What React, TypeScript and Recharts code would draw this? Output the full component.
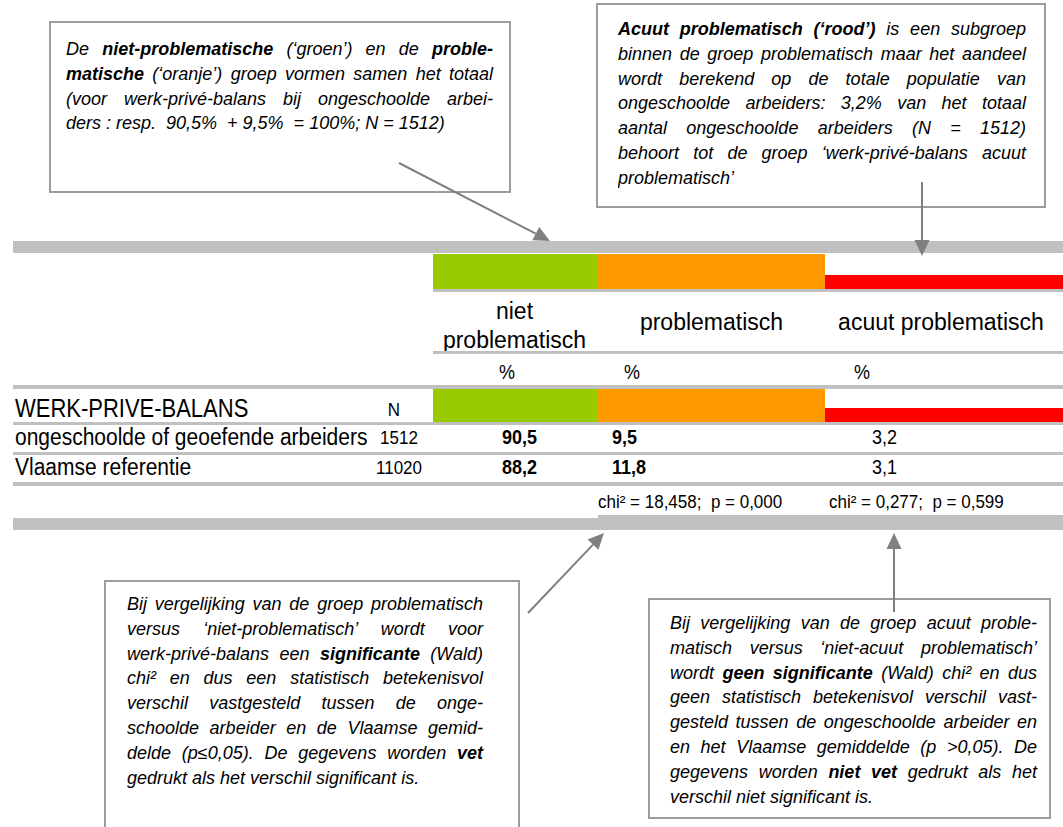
import React from 'react';
import { ComposedChart, XAxis, YAxis, ReferenceArea, Scatter, Customized } from 'recharts';

// ---------- data ----------
const sectionTitle = 'WERK-PRIVE-BALANS';
const columnHeaders = [['niet', 'problematisch'], ['problematisch'], ['acuut problematisch']];
const columnUnits = ['%', '%', '%'];
const groups = ['ongeschoolde of geoefende arbeiders', 'Vlaamse referentie'];
const groupN = [1512, 11020];
const nietProblematisch = [90.5, 88.2];
const problematisch = [9.5, 11.8];
const acuutProblematisch = [3.2, 3.1];
const columnSignificant = [true, true, false];
const chiSquare = [18.458, 0.277];
const pValue = [0.0, 0.599];
const columnColors = ['#99cc00', '#ff9900', '#ff0000'];

const noteTopLeft = [
  'De **niet-problematische** (‘groen’) en de **proble-**',
  '**matische** (‘oranje’) groep vormen samen het totaal',
  '(voor werk-privé-balans bij ongeschoolde arbei-',
  'ders : resp.  90,5%  + 9,5%  = 100%; N = 1512)',
];
const noteTopRight = [
  '**Acuut problematisch (‘rood’)** is een subgroep',
  'binnen de groep problematisch maar het aandeel',
  'wordt berekend op de totale populatie van',
  'ongeschoolde arbeiders: 3,2% van het totaal',
  'aantal ongeschoolde arbeiders (N = 1512)',
  'behoort tot de groep ‘werk-privé-balans acuut',
  'problematisch’',
];
const noteBottomLeft = [
  'Bij vergelijking van de groep problematisch',
  'versus ‘niet-problematisch’ wordt voor',
  'werk-privé-balans een **significante** (Wald)',
  'chi² en dus een statistisch betekenisvol',
  'verschil vastgesteld tussen de onge-',
  'schoolde arbeider en de Vlaamse gemid-',
  'delde (p≤0,05). De gegevens worden **vet**',
  'gedrukt als het verschil significant is.',
];
const noteBottomRight = [
  'Bij vergelijking van de groep acuut proble-',
  'matisch versus ‘niet-acuut problematisch’',
  'wordt **geen significante** (Wald) chi² en dus',
  'geen statistisch betekenisvol verschil vast-',
  'gesteld tussen de ongeschoolde arbeider en',
  'en het Vlaamse gemiddelde (p >0,05). De',
  'gegevens worden **niet vet** gedrukt als het',
  'verschil niet significant is.',
];

const tableRows = groups.map((g, i) => ({
  group: g,
  n: groupN[i],
  values: [nietProblematisch[i], problematisch[i], acuutProblematisch[i]],
}));

// ---------- layout ----------
const WIDTH = 1063;
const HEIGHT = 827;
const FONT = '"Liberation Sans", Arial, Helvetica, sans-serif';
const GRAY = '#c0c0c0';
const BOX = '#9c9c9c';
const ARROW = '#808080';
const COL_X = [433, 598, 825, 1063];
const LEFT = 13;
const VALUE_X = [502, 612, 872];
const UNIT_X = [507, 632, 862];
const CHI_X = [598, 829];
const ROW_Y = [437, 467];
const PITCH = 24.8;
const frame = [{ x: 0, y: 0 }, { x: WIDTH, y: HEIGHT }];

const fmt1 = (v: number) => v.toFixed(1).replace('.', ',');
const fmt3 = (v: number) => v.toFixed(3).replace('.', ',');

type Band = { x1: number; x2: number; y1: number; y2: number; fill: string };
const bands: Band[] = [
  { x1: LEFT, x2: WIDTH, y1: 241, y2: 253, fill: GRAY },
  { x1: COL_X[0], x2: COL_X[1], y1: 254, y2: 289, fill: columnColors[0] },
  { x1: COL_X[1], x2: COL_X[2], y1: 254, y2: 289, fill: columnColors[1] },
  { x1: COL_X[2], x2: COL_X[3], y1: 275, y2: 289, fill: columnColors[2] },
  { x1: COL_X[0], x2: WIDTH, y1: 289, y2: 292, fill: GRAY },
  { x1: COL_X[0], x2: WIDTH, y1: 351, y2: 354, fill: GRAY },
  { x1: LEFT, x2: WIDTH, y1: 385, y2: 389, fill: GRAY },
  { x1: COL_X[0], x2: COL_X[1], y1: 389, y2: 422, fill: columnColors[0] },
  { x1: COL_X[1], x2: COL_X[2], y1: 389, y2: 422, fill: columnColors[1] },
  { x1: COL_X[2], x2: COL_X[3], y1: 408, y2: 422, fill: columnColors[2] },
  { x1: LEFT, x2: WIDTH, y1: 422, y2: 425, fill: GRAY },
  { x1: LEFT, x2: WIDTH, y1: 452, y2: 455, fill: GRAY },
  { x1: LEFT, x2: WIDTH, y1: 482, y2: 486, fill: GRAY },
  { x1: LEFT, x2: COL_X[1], y1: 518, y2: 530, fill: GRAY },
  { x1: COL_X[1], x2: WIDTH, y1: 515, y2: 530, fill: GRAY },
];

type Note = { x1: number; y1: number; x2: number; y2: number; tx: number; tw: number; first: number; lines: string[] };
const notes: Note[] = [
  { x1: 50, y1: 22, x2: 510, y2: 192, tx: 66, tw: 427, first: 49, lines: noteTopLeft },
  { x1: 597, y1: 4, x2: 1045, y2: 207, tx: 618, tw: 408, first: 29, lines: noteTopRight },
  { x1: 105, y1: 581, x2: 519, y2: 840, tx: 127, tw: 356, first: 604, lines: noteBottomLeft },
  { x1: 649, y1: 599, x2: 1050, y2: 818, tx: 670, tw: 367, first: 623, lines: noteBottomRight },
];

type Arrow = { from: [number, number]; to: [number, number] };
const arrows: Arrow[] = [
  { from: [399, 163], to: [550, 241] },
  { from: [922, 182], to: [922, 256] },
  { from: [528, 613], to: [604, 533] },
  { from: [894, 612], to: [894, 533] },
];

const rich = (s: string) =>
  s.split('**').map((part, k) => (k % 2 ? <b key={k}>{part}</b> : <span key={k}>{part}</span>));

const STextStyle = { fontFamily: FONT, fill: '#000' } as const;

function SText(props: {
  x: number; y: number; size: number; anchor?: 'start' | 'middle' | 'end'; bold?: boolean; sy?: number; pre?: boolean; children: React.ReactNode;
}) {
  const { x, y, size, anchor = 'start', bold = false, sy = 1, pre = false, children } = props;
  return (
    <text
      transform={`translate(${x},${y}) scale(1,${sy})`}
      x={0}
      y={0}
      textAnchor={anchor}
      dominantBaseline="central"
      fontSize={size}
      fontWeight={bold ? 700 : 400}
      style={{ ...STextStyle, whiteSpace: pre ? 'pre' : 'normal' }}
    >
      {children}
    </text>
  );
}

function Overlay() {
  return (
    <g>
      {/* annotation boxes */}
      {notes.map((n, i) => (
        <g key={'note' + i}>
          <rect x={n.x1} y={n.y1} width={n.x2 - n.x1} height={n.y2 - n.y1} fill="#fff" stroke={BOX} strokeWidth={2} />
          <foreignObject x={n.tx} y={n.first - 12} width={n.tw + 40} height={n.lines.length * PITCH + 12}>
            <div style={{ position: 'relative', width: n.tw, fontFamily: FONT, fontStyle: 'italic', fontSize: 18, color: '#000' }}>
              {n.lines.map((ln, k) => {
                const last = k === n.lines.length - 1;
                return (
                  <div
                    key={k}
                    style={{
                      position: 'absolute',
                      left: 0,
                      top: k * PITCH,
                      width: n.tw,
                      height: 24,
                      lineHeight: '24px',
                      whiteSpace: last ? 'pre' : 'nowrap',
                      textAlign: last ? 'left' : 'justify',
                      textAlignLast: last ? 'left' : 'justify',
                    } as React.CSSProperties}
                  >
                    {rich(ln)}
                  </div>
                );
              })}
            </div>
          </foreignObject>
        </g>
      ))}

      {/* column headers */}
      {columnHeaders.map((lines, c) => {
        const cx = (COL_X[c] + COL_X[c + 1]) / 2 + (c === 0 ? -1 : c === 1 ? 0 : -3);
        const ys = lines.length === 2 ? [311, 340] : [322];
        return lines.map((t, k) => (
          <SText key={`h${c}-${k}`} x={cx} y={ys[k]} size={23} anchor="middle" sy={1.05}>
            {t}
          </SText>
        ));
      })}
      {columnUnits.map((u, c) => (
        <SText key={'u' + c} x={UNIT_X[c]} y={372} size={18} anchor="middle" sy={1.1}>
          {u}
        </SText>
      ))}

      {/* section title row */}
      <SText x={15} y={408} size={22} sy={1.15}>{sectionTitle}</SText>
      <SText x={394} y={410} size={17} anchor="middle" sy={1.1}>N</SText>

      {/* data rows */}
      {tableRows.map((r, i) => (
        <g key={'row' + i}>
          <SText x={15} y={ROW_Y[i]} size={21} sy={1.1}>{r.group}</SText>
          <SText x={399} y={ROW_Y[i] + 1} size={17} anchor="middle" sy={1.1}>{r.n}</SText>
          {r.values.map((v, c) => (
            <SText key={c} x={VALUE_X[c]} y={ROW_Y[i]} size={18} bold={columnSignificant[c]} sy={1.1}>
              {fmt1(v)}
            </SText>
          ))}
        </g>
      ))}

      {/* chi-square tests */}
      {chiSquare.map((chi, k) => (
        <SText key={'chi' + k} x={CHI_X[k]} y={502} size={17} sy={1.05} pre>
          {`chi² = ${fmt3(chi)};  p = ${fmt3(pValue[k])}`}
        </SText>
      ))}
    </g>
  );
}

function Arrows() {
  return (
    <svg
      width={WIDTH}
      height={HEIGHT}
      style={{ position: 'absolute', left: 0, top: 0, pointerEvents: 'none' }}
    >
      {arrows.map((a, i) => {
        const [x0, y0] = a.from;
        const [x1, y1] = a.to;
        const len = Math.hypot(x1 - x0, y1 - y0);
        const ux = (x1 - x0) / len;
        const uy = (y1 - y0) / len;
        const L = 16;
        const Wd = 7.5;
        const bx = x1 - ux * L;
        const by = y1 - uy * L;
        const p1 = `${x1},${y1}`;
        const p2 = `${bx - uy * Wd},${by + ux * Wd}`;
        const p3 = `${bx + uy * Wd},${by - ux * Wd}`;
        return (
          <g key={'arrow' + i}>
            <line x1={x0} y1={y0} x2={bx} y2={by} stroke={ARROW} strokeWidth={2} />
            <polygon points={`${p1} ${p2} ${p3}`} fill={ARROW} />
          </g>
        );
      })}
    </svg>
  );
}

export default function App() {
  return (
    <div style={{ position: 'absolute', left: 0, top: 0, width: WIDTH, height: HEIGHT, background: '#fff' }}>
      <ComposedChart width={WIDTH} height={HEIGHT} margin={{ top: 0, right: 0, bottom: 0, left: 0 }} data={frame}>
        <XAxis type="number" dataKey="x" domain={[0, WIDTH]} hide allowDataOverflow />
        <YAxis type="number" dataKey="y" domain={[0, HEIGHT]} reversed hide allowDataOverflow />
        <Scatter data={frame} dataKey="y" fill="none" shape={() => <g />} isAnimationActive={false} />
        {bands.map((b, i) => (
          <ReferenceArea
            key={'band' + i}
            x1={b.x1}
            x2={b.x2}
            y1={b.y1}
            y2={b.y2}
            fill={b.fill}
            fillOpacity={1}
            stroke="none"
            ifOverflow="visible"
          />
        ))}
        <Customized component={<Overlay />} />
      </ComposedChart>
      <Arrows />
    </div>
  );
}
